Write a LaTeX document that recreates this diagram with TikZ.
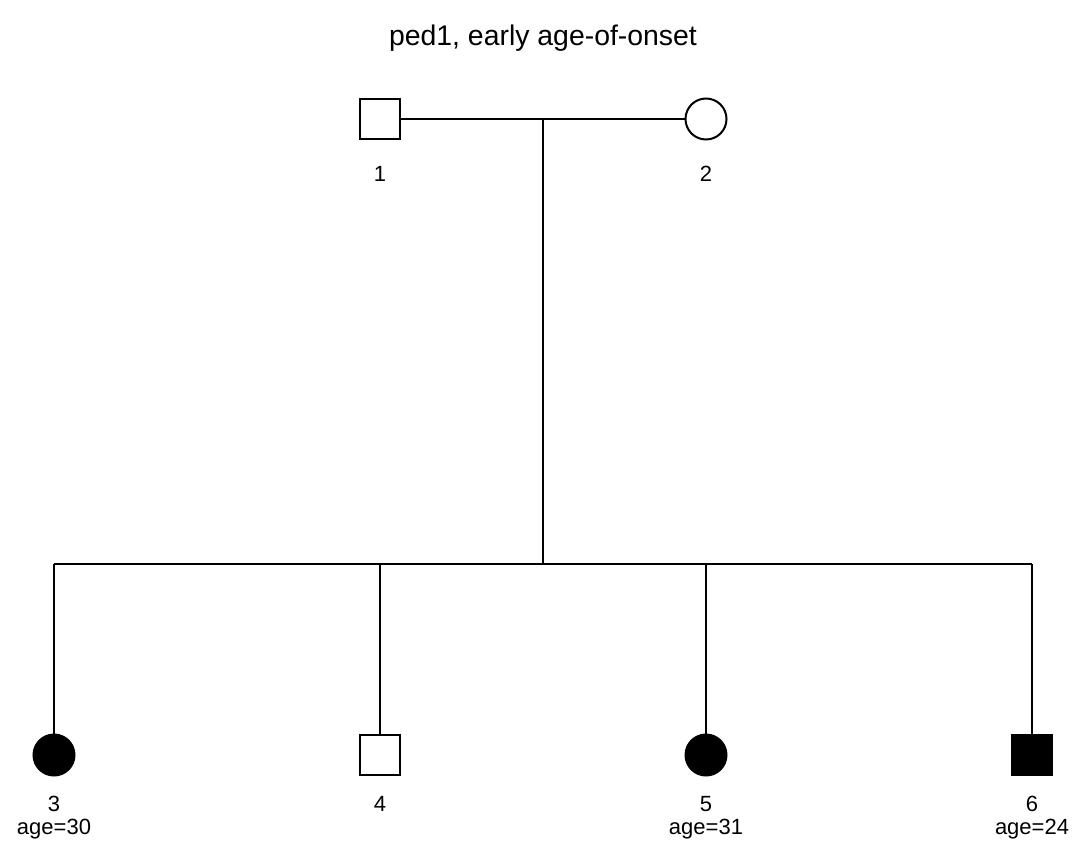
\documentclass[tikz,border=0pt]{standalone}
\usepackage{fontspec}
\setmainfont{Liberation Sans}
\begin{document}
\begin{tikzpicture}[x=1pt,y=-1pt,
  line/.style={line width=2pt},
  male/.style={draw,line width=2pt,minimum size=40pt,inner sep=0pt,rectangle},
  female/.style={draw,line width=2pt,minimum size=41pt,inner sep=0pt,circle},
  aff/.style={fill=black},
  lab/.style={font=\fontsize{22}{24}\selectfont,inner sep=0pt},
  ttl/.style={font=\fontsize{28.4}{31}\selectfont,inner sep=0pt}]
\useasboundingbox (0,0) rectangle (1073,849);
\node[ttl] (title) at (543,38) {ped1, early age-of-onset};
\node[male] (p1) at (380,119) {};
\node[female] (p2) at (706,119) {};
\node[lab] (l1) at (380,174) {1};
\node[lab] (l2) at (706,174) {2};
\coordinate (m) at (543,119);
\coordinate (s) at (543,564);
\coordinate (sl) at (54,564);
\coordinate (sr) at (1032,564);
\node[female,aff] (p3) at (54,755) {};
\node[male] (p4) at (380,755) {};
\node[female,aff] (p5) at (706,755) {};
\node[male,aff] (p6) at (1032,755) {};
\node[lab] (l3) at (54,804) {3};
\node[lab] (a3) at (54,829) {age=30};
\node[lab] (l4) at (380,804) {4};
\node[lab] (l5) at (706,804) {5};
\node[lab] (a5) at (706,829) {age=31};
\node[lab] (l6) at (1032,804) {6};
\node[lab] (a6) at (1032,829) {age=24};
\draw[line] (p1.east) -- (p2.west);
\draw[line] (m) -- (s);
\draw[line] (sl) -- (sr);
\draw[line] (sl) -- (p3.north);
\draw[line] (p4.north |- s) -- (p4.north);
\draw[line] (p5.north |- s) -- (p5.north);
\draw[line] (sr) -- (p6.north);
\end{tikzpicture}
\end{document}
